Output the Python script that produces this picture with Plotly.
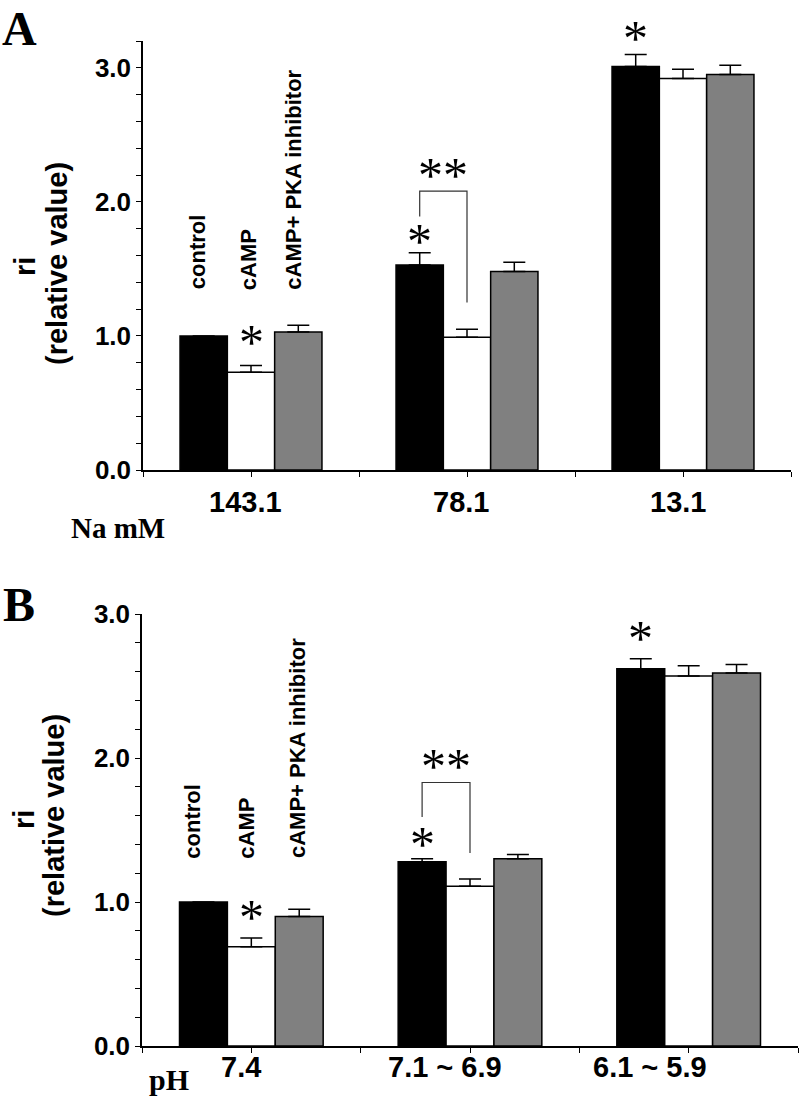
import plotly.graph_objects as go

# ---------------- data ----------------
series_names = ["control", "cAMP", "cAMP+ PKA inhibitor"]
series_colors = ["#000000", "#ffffff", "#808080"]

na_labels = ["143.1", "78.1", "13.1"]
na_control = [1.00, 1.53, 3.01]
na_camp = [0.73, 0.99, 2.92]
na_pka = [1.03, 1.48, 2.95]
na_control_err = [0.0, 0.09, 0.09]
na_camp_err = [0.05, 0.06, 0.07]
na_pka_err = [0.05, 0.07, 0.07]

ph_labels = ["7.4", "7.1 ~ 6.9", "6.1 ~ 5.9"]
ph_control = [1.00, 1.28, 2.62]
ph_camp = [0.69, 1.11, 2.57]
ph_pka = [0.90, 1.30, 2.59]
ph_control_err = [0.0, 0.02, 0.07]
ph_camp_err = [0.06, 0.05, 0.07]
ph_pka_err = [0.05, 0.03, 0.06]

# significance marks: (group index, series index)
na_stars = [(0, 1), (1, 0), (2, 0)]
ph_stars = [(0, 1), (1, 0), (2, 0)]
# bracket levels (left leg bottom, top, right leg bottom) between control and cAMP in group 1
na_bracket = [1.89, 2.08, 1.25]
ph_bracket = [1.59, 1.83, 1.34]

# ---------------- layout constants ----------------
W, H = 800, 1098
BARGAP = 0.343
BW = (1 - BARGAP) / 3
SANS = "Liberation Sans"
SERIF = "Liberation Serif"


def py(ypx):
    return 1 - ypx / H


def px(xpx):
    return xpx / W


fig = go.Figure()

panels = [
    dict(vals=[na_control, na_camp, na_pka], errs=[na_control_err, na_camp_err, na_pka_err],
         labels=na_labels, stars=na_stars, bracket=na_bracket, xa="x", ya="y",
         xdom=[143 / W, 791 / W], ydom=[py(470), py(41)], yrange=[0, 3.2],
         label_shift=[-6, -6, -5], label_y=py(502), rot_y=1.33,
         rot_x=[-0.25, -0.014, 0.199], star_lift=[23, 12, 16]),
    dict(vals=[ph_control, ph_camp, ph_pka], errs=[ph_control_err, ph_camp_err, ph_pka_err],
         labels=ph_labels, stars=ph_stars, bracket=ph_bracket, xa="x2", ya="y2",
         xdom=[142 / W, 798 / W], ydom=[py(1046), py(614)], yrange=[0, 3.0],
         label_shift=[-10, -25, -39], label_y=py(1067), rot_y=1.29,
         rot_x=[-0.267, -0.02, 0.208], star_lift=[21, 15, 21]),
]

annotations = []
shapes = []

for p in panels:
    xs = list(range(len(p["labels"])))
    for si in range(3):
        fig.add_trace(go.Bar(
            x=xs, y=p["vals"][si], name=series_names[si],
            marker=dict(color=series_colors[si], line=dict(color="#000000", width=1.5)),
            error_y=dict(type="data", symmetric=False, array=p["errs"][si],
                         arrayminus=[0] * len(xs), color="#000000", thickness=1.5, width=11),
            xaxis=p["xa"], yaxis=p["ya"], showlegend=False,
        ))
    # category labels
    for i, lab in enumerate(p["labels"]):
        annotations.append(dict(
            text=lab, x=i, xref=p["xa"], y=p["label_y"], yref="paper",
            xshift=p["label_shift"][i], showarrow=False, xanchor="center", yanchor="middle",
            font=dict(family=SANS, size=29, color="#000000", weight="bold"),
        ))
    # rotated series labels
    for si in range(3):
        annotations.append(dict(
            text=series_names[si], x=p["rot_x"][si], xref=p["xa"], y=p["rot_y"], yref=p["ya"],
            textangle=-90, showarrow=False, xanchor="center", yanchor="bottom",
            font=dict(family=SANS, size=22, color="#000000", weight="bold"),
        ))
    # single stars
    for k, (g, si) in enumerate(p["stars"]):
        top = p["vals"][si][g] + p["errs"][si][g]
        annotations.append(dict(
            text="*", x=g + (si - 1) * BW, xref=p["xa"], y=top, yref=p["ya"],
            yshift=p["star_lift"][k], showarrow=False, xanchor="center", yanchor="middle",
            font=dict(family=SERIF, size=50, color="#000000"),
        ))
    # bracket and double star
    lb, tp, rb = p["bracket"]
    xl, xr = 1 - BW, 1.0
    shapes.append(dict(
        type="path", xref=p["xa"], yref=p["ya"],
        path=f"M {xl} {lb} L {xl} {tp} L {xr} {tp} L {xr} {rb}",
        line=dict(color="#333333", width=1.2),
    ))
    annotations.append(dict(
        text="**", x=(xl + xr) / 2, xref=p["xa"], y=tp, yref=p["ya"],
        yshift=16, showarrow=False, xanchor="center", yanchor="middle",
        font=dict(family=SERIF, size=50, color="#000000"),
    ))

# panel letters, axis titles, x-axis names
annotations.append(dict(text="A", x=px(19), y=1.0, xref="paper", yref="paper",
                        showarrow=False, xanchor="center", yanchor="top",
                        font=dict(family=SERIF, size=48, color="#000000", weight="bold")))
annotations.append(dict(text="B", x=px(19), y=py(604), xref="paper", yref="paper",
                        showarrow=False, xanchor="center", yanchor="middle",
                        font=dict(family=SERIF, size=48, color="#000000", weight="bold")))
for (xr_, yr_, xt, yt) in [(25, 267, 57, 263), (24, 820, 54, 816)]:
    annotations.append(dict(text="ri", x=px(xr_), y=py(yr_), xref="paper", yref="paper",
                            textangle=-90, showarrow=False, xanchor="center", yanchor="middle",
                            font=dict(family=SANS, size=29, color="#000000", weight="bold")))
    annotations.append(dict(text="(relative value)", x=px(xt), y=py(yt), xref="paper", yref="paper",
                            textangle=-90, showarrow=False, xanchor="center", yanchor="middle",
                            font=dict(family=SANS, size=29, color="#000000", weight="bold")))
annotations.append(dict(text="Na mM", x=px(118), y=py(528), xref="paper", yref="paper",
                        showarrow=False, xanchor="center", yanchor="middle",
                        font=dict(family=SERIF, size=29, color="#000000", weight="bold")))
annotations.append(dict(text="pH", x=px(169), y=py(1079), xref="paper", yref="paper",
                        showarrow=False, xanchor="center", yanchor="middle",
                        font=dict(family=SERIF, size=30, color="#000000", weight="bold")))

axis_common_x = dict(
    range=[-0.5, 2.5], showline=True, linecolor="#000000", linewidth=1.5,
    showgrid=False, zeroline=False, tickmode="array", tickvals=[0, 1, 2],
    showticklabels=False, ticks="outside", ticklen=5, tickcolor="#000000", tickwidth=1.2,
    minor=dict(tickmode="linear", tick0=0.5, dtick=1, ticks="outside", ticklen=5,
               tickcolor="#000000", tickwidth=1.2),
    fixedrange=True, automargin=False,
)
axis_common_y = dict(
    showline=True, linecolor="#000000", linewidth=1.5, showgrid=False, zeroline=False,
    tickmode="array", tickvals=[0, 1, 2, 3], ticktext=["0.0", "1.0", "2.0", "3.0"],
    ticks="outside", ticklen=5, tickcolor="#000000", tickwidth=1.2,
    minor=dict(tickmode="linear", tick0=0, dtick=0.2, ticks="outside", ticklen=5,
               tickcolor="#000000", tickwidth=1.2, showgrid=False),
    tickfont=dict(family=SANS, size=26, color="#000000", weight="bold"),
    fixedrange=True, automargin=False,
)

fig.update_layout(
    width=W, height=H, margin=dict(l=0, r=0, t=0, b=0, pad=0, autoexpand=False),
    paper_bgcolor="#ffffff", plot_bgcolor="#ffffff",
    barmode="group", bargap=BARGAP, bargroupgap=0,
    xaxis=dict(domain=panels[0]["xdom"], anchor="y", **axis_common_x),
    yaxis=dict(domain=panels[0]["ydom"], anchor="x", range=panels[0]["yrange"], **axis_common_y),
    xaxis2=dict(domain=panels[1]["xdom"], anchor="y2", **axis_common_x),
    yaxis2=dict(domain=panels[1]["ydom"], anchor="x2", range=panels[1]["yrange"], **axis_common_y),
    annotations=annotations, shapes=shapes, showlegend=False,
)

fig.write_html("out.html", config={"displayModeBar": False},
               post_script="document.body.style.margin='0';document.body.style.overflow='hidden';")
